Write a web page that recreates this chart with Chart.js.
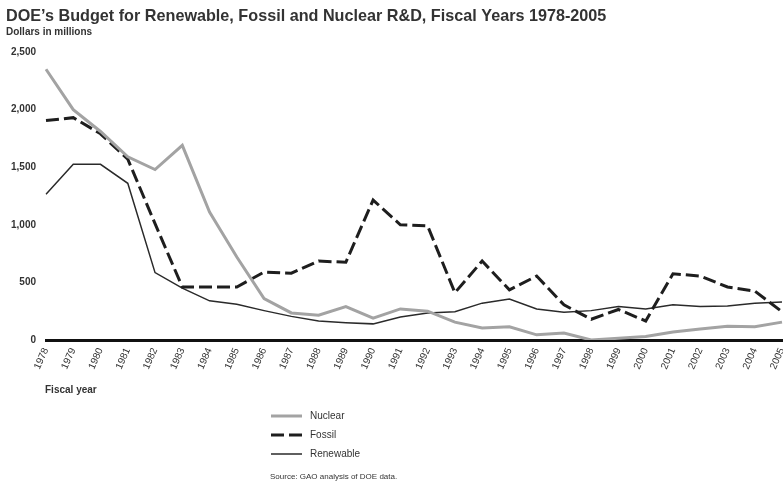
<!DOCTYPE html>
<html>
<head>
<meta charset="utf-8">
<script src="https://cdn.jsdelivr.net/npm/chart.js@4/dist/chart.umd.min.js"></script>
<style>
  html, body { margin: 0; padding: 0; background: #fff; }
  #wrap { width: 783px; height: 483px; position: relative; }
</style>
</head>
<body>
<div id="wrap"><canvas id="budget-chart" width="783" height="483"></canvas></div>
<script>
// Fiscal years on the x axis
const years = ['1978', '1979', '1980', '1981', '1982', '1983', '1984', '1985', '1986', '1987',
    '1988', '1989', '1990', '1991', '1992', '1993', '1994', '1995', '1996', '1997',
    '1998', '1999', '2000', '2001', '2002', '2003', '2004', '2005'];

// R&D budget, dollars in millions
const nuclear = [2350, 2000, 1810, 1590, 1480, 1690, 1110, 720, 360, 235,
    215, 290, 190, 270, 250, 155, 105, 115, 45, 60,
    0, 15, 30, 70, 95, 120, 115, 155];
const fossil = [1905, 1930, 1790, 1570, 1010, 460, 460, 460, 590, 580,
    685, 675, 1215, 1000, 990, 410, 685, 435, 555, 305,
    180, 265, 165, 575, 555, 460, 425, 245];
const renewable = [1265, 1525, 1525, 1360, 585, 450, 340, 310, 255, 205,
    165, 150, 140, 200, 235, 245, 320, 355, 270, 240,
    255, 290, 270, 305, 290, 295, 320, 330];

const yTicks = [0, 500, 1000, 1500, 2000, 2500];

const textColor = '#333';

// Titles, axis captions, legend and source note
const extraText = {
    id: 'extraText',
    afterDraw(chart) {
        const ctx = chart.ctx;
        ctx.save();
        ctx.fillStyle = textColor;
        ctx.textBaseline = 'alphabetic';
        ctx.textAlign = 'left';
        ctx.font = 'bold 16.2px "Liberation Sans", Arial, sans-serif';
        ctx.fillText('DOE\u2019s Budget for Renewable, Fossil and Nuclear R&D, Fiscal Years 1978-2005', 6, 21);
        ctx.font = 'bold 10px "Liberation Sans", Arial, sans-serif';
        ctx.fillText('Dollars in millions', 6, 35);
        ctx.fillText('Fiscal year', 45, 393);

        // legend built from the dataset styles
        const rows = [419, 438, 457];
        chart.data.datasets.forEach((ds, i) => {
            const y = rows[i];
            ctx.save();
            ctx.strokeStyle = ds.borderColor;
            ctx.lineWidth = ds.borderWidth;
            ctx.setLineDash(ds.borderDash || []);
            ctx.beginPath();
            ctx.moveTo(271, y - 3);
            ctx.lineTo(302, y - 3);
            ctx.stroke();
            ctx.restore();
            ctx.font = '10px "Liberation Sans", Arial, sans-serif';
            ctx.fillText(ds.label, 310, y);
        });

        ctx.font = '8px "Liberation Sans", Arial, sans-serif';
        ctx.fillText('Source: GAO analysis of DOE data.', 270, 479);
        ctx.restore();
    }
};

const ctx = document.getElementById('budget-chart').getContext('2d');
new Chart(ctx, {
    type: 'line',
    data: {
        labels: years,
        datasets: [{
            label: 'Nuclear',
            data: nuclear,
            borderColor: '#a3a3a3',
            borderWidth: 3,
            pointRadius: 0,
            tension: 0
        }, {
            label: 'Fossil',
            data: fossil,
            borderColor: '#1e1e1e',
            borderWidth: 3,
            borderDash: [13, 5],
            pointRadius: 0,
            tension: 0
        }, {
            label: 'Renewable',
            data: renewable,
            borderColor: '#2a2a2a',
            borderWidth: 1.5,
            pointRadius: 0,
            tension: 0
        }]
    },
    options: {
        responsive: false,
        animation: false,
        layout: {
            padding: { top: 52, left: 0, right: 1, bottom: 113 }
        },
        plugins: {
            legend: { display: false },
            tooltip: { enabled: false }
        },
        scales: {
            x: {
                offset: false,
                grid: { display: false, drawTicks: false },
                border: { display: true, color: '#111', width: 3 },
                ticks: {
                    autoSkip: false,
                    minRotation: 66,
                    maxRotation: 66,
                    padding: 6,
                    color: textColor,
                    font: { family: '"Liberation Sans", Arial, sans-serif', size: 10 }
                },
                afterFit(scale) {
                    scale.height = 30;
                    scale.paddingLeft = 0;
                    scale.paddingRight = 0;
                }
            },
            y: {
                min: 0,
                max: 2500,
                grid: { display: false, drawTicks: false },
                border: { display: false },
                afterBuildTicks(scale) {
                    scale.ticks = yTicks.map(v => ({ value: v }));
                },
                ticks: {
                    padding: 10,
                    color: textColor,
                    font: { family: '"Liberation Sans", Arial, sans-serif', size: 10, weight: 'bold' },
                    callback: v => v.toLocaleString('en-US')
                },
                afterFit(scale) {
                    scale.width = 46;
                    scale.paddingTop = 0;
                    scale.paddingBottom = 0;
                }
            }
        }
    },
    plugins: [extraText]
});
</script>
</body>
</html>
